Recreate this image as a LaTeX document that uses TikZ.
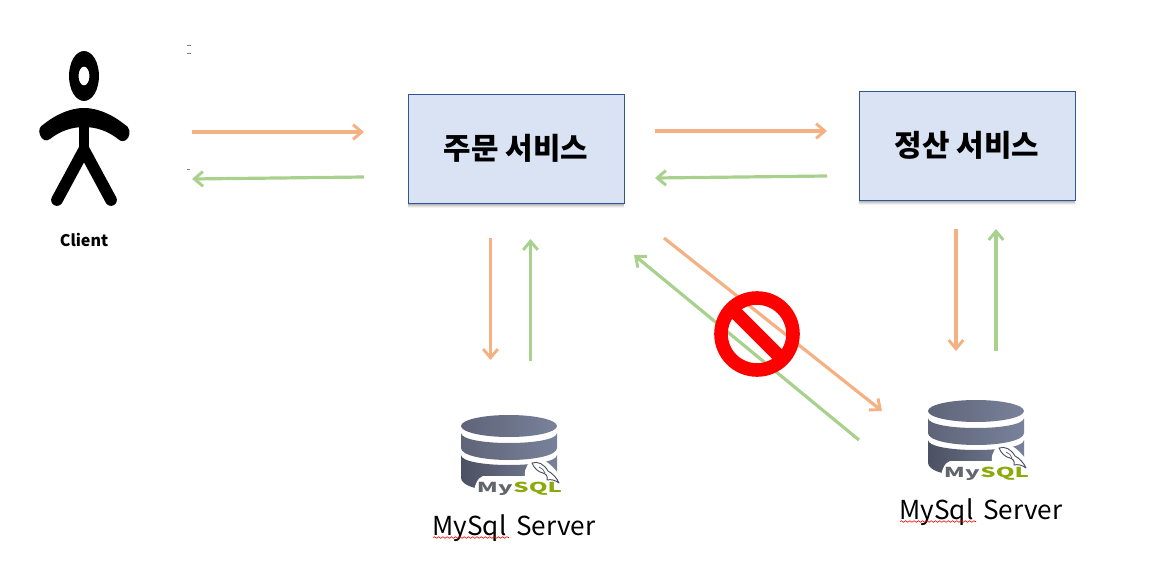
\documentclass[tikz,border=0pt]{standalone}
\usepackage{fontspec}
\setmainfont{Noto Sans CJK KR}
\usetikzlibrary{arrows.meta,decorations.pathmorphing}
\definecolor{oarrow}{HTML}{F4B183}
\definecolor{garrow}{HTML}{A9D18E}
\definecolor{boxfill}{HTML}{DAE3F3}
\definecolor{boxline}{HTML}{2F5597}
\definecolor{dbL}{HTML}{5F6478}
\definecolor{dbR}{HTML}{78829A}
\definecolor{dbD}{HTML}{4C5062}
\definecolor{dbM}{HTML}{62666C}
\definecolor{dbS}{HTML}{8CA80A}
\tikzset{
  flow/.style={line width=2.4pt,-{Straight Barb[length=6.5pt,width=11pt,line width=2.2pt]}},
  oflow/.style={flow,draw=oarrow},
  gflow/.style={flow,draw=garrow},
  svc/.style={rectangle,draw=boxline,line width=0.7pt,fill=boxfill,minimum width=162pt,minimum height=81.75pt,inner sep=0pt,font=\fontsize{22.4pt}{26pt}\selectfont\bfseries},
  svcshadow/.style={rectangle,fill=black,fill opacity=#1,minimum width=162pt,minimum height=81.75pt,inner sep=0pt},
  caption/.style={font=\fontsize{19.6pt}{23pt}\selectfont,inner sep=0pt},
  squiggle/.style={draw=red,line width=0.45pt,decorate,decoration={snake,amplitude=0.6pt,segment length=3.2pt}},
  dashmark/.style={draw=gray,line width=0.6pt},
  pics/dbicon/.style={code={
    \path[left color=dbL,right color=dbR] (0,0) ellipse [x radius=48,y radius=11];
    \path[left color=dbL,right color=dbR]
      (-48,7) .. controls (-48,13) and (-27,17) .. (0,17) .. controls (27,17) and (48,13) .. (48,7)
      -- (48,22) .. controls (48,29) and (27,34) .. (0,34) .. controls (-27,34) and (-48,29) .. (-48,22) -- cycle;
    \path[left color=dbD,right color=dbR]
      (-48,29) .. controls (-48,35) and (-27,39) .. (0,39) .. controls (27,39) and (48,35) .. (48,29)
      -- (48,52) .. controls (48,60) and (27,66) .. (0,66) .. controls (-27,66) and (-48,60) .. (-48,52) -- cycle;
    \fill[white] (-36,72) .. controls (-35,60) and (-32,52) .. (-26,50) -- (16,50)
      .. controls (15,42) and (19,36) .. (28,32) .. controls (38,33) and (50,46) .. (56,58) -- (56,72) -- cycle;
    \draw[dbD,line width=0.7pt,fill=white,line join=round] (23,37) .. controls (29,35) and (35,38) .. (39,45) .. controls (43,47) and (48,52) .. (50,57)
      .. controls (46,54) and (42,53) .. (38,54) .. controls (39,50) and (37,48) .. (34,47)
      .. controls (29,46) and (25,42) .. (23,37) -- cycle;
    \draw[dbD,line width=0.5pt] (30,41) .. controls (33,42) and (35,44) .. (36,47);
    \node[anchor=base east,inner sep=0pt,text=dbM,xscale=1.75,font=\fontsize{10.3pt}{12pt}\selectfont\bfseries] (-my) at (4,66) {My};
    \node[anchor=base west,inner sep=0pt,text=dbS,xscale=1.75,font=\fontsize{10.3pt}{12pt}\selectfont\bfseries] (-sql) at (4,66) {SQL};
  }},
}
\begin{document}
\begin{tikzpicture}[x=0.75pt,y=-0.75pt]
\useasboundingbox (0,0) rectangle (1168,578);
% stick figure
\fill[black,even odd rule] (84,76) ellipse [x radius=15,y radius=25] (84,76) ellipse [x radius=5.5,y radius=9.5];
\fill[black] (40,135) .. controls (38,130) and (40,126) .. (44,124)
  .. controls (58,113) and (72,108) .. (84,108) .. controls (96,108) and (110,113) .. (124,124)
  .. controls (130,127) and (131,133) .. (128,138) .. controls (125,142) and (121,142) .. (118,139)
  .. controls (108,131) and (96,127) .. (84,127) .. controls (72,127) and (60,131) .. (50,139)
  .. controls (46,142) and (42,140) .. (40,135) -- cycle;
\draw[black,line width=7.5pt] (84,120) -- (84,150);
\draw[black,line width=8.8pt,line cap=round,line join=round] (57,200) -- (84,150) -- (111,200);
\node[inner sep=0pt,font=\fontsize{12pt}{14pt}\selectfont\bfseries] (client) at (84,239.5) {Client};
\draw[dashmark] (187,45) -- (191,45);
\draw[dashmark] (187,53) -- (191,53);
\draw[dashmark] (187,169) -- (190,169);
% service boxes
\foreach \i/\o in {5/0.05,4/0.07,3/0.09,2/0.11,1/0.13}{
  \node[svcshadow=\o] at (516,148.5+\i) {};
  \node[svcshadow=\o] at (967,145.5+\i) {};
}
\node[svc] (order) at (516,148.5) {주문 서비스};
\node[svc] (settle) at (967,145.5) {정산 서비스};
% free connector ends
\coordinate (a1) at (192,132); \coordinate (a2) at (364,132);
\coordinate (b1) at (364,177); \coordinate (b2) at (192,179);
\coordinate (c1) at (655,131); \coordinate (c2) at (827,131);
\coordinate (d1) at (827,176); \coordinate (d2) at (655,178);
\coordinate (e1) at (490.5,238); \coordinate (e2) at (490.5,360);
\coordinate (f1) at (530.5,361); \coordinate (f2) at (530.5,239);
\coordinate (g1) at (956,229); \coordinate (g2) at (956,351);
\coordinate (h1) at (996,351); \coordinate (h2) at (996,229);
\coordinate (i1) at (664,238); \coordinate (i2) at (882,411);
\coordinate (j1) at (859,440); \coordinate (j2) at (634,255);
\draw[oflow] (a1) -- (a2);
\draw[gflow] (b1) -- (b2);
\draw[oflow] (c1) -- (c2);
\draw[gflow] (d1) -- (d2);
\draw[oflow] (e1) -- (e2);
\draw[gflow] (f1) -- (f2);
\draw[oflow] (g1) -- (g2);
\draw[gflow] (h1) -- (h2);
\draw[oflow] (i1) -- (i2);
\draw[gflow] (j1) -- (j2);
% prohibition sign
\draw[red,line width=10.2pt] (757,334) circle [radius=36];
\draw[red,line width=10.2pt] (731.5,308.5) -- (782.5,359.5);
% databases
\pic (dba) at (509,426) {dbicon};
\pic (dbb) at (976,411) {dbicon};
\node[caption] (cap1) at (514,528.5) {MySql\hspace{3pt} Server};
\node[caption] (cap2) at (981,512.5) {MySql\hspace{3pt} Server};
\coordinate (s1) at (433,537.5); \coordinate (s2) at (509,537.5);
\coordinate (t1) at (900,521.5); \coordinate (t2) at (976,521.5);
\draw[squiggle] (s1) -- (s2);
\draw[squiggle] (t1) -- (t2);
\end{tikzpicture}
\end{document}
